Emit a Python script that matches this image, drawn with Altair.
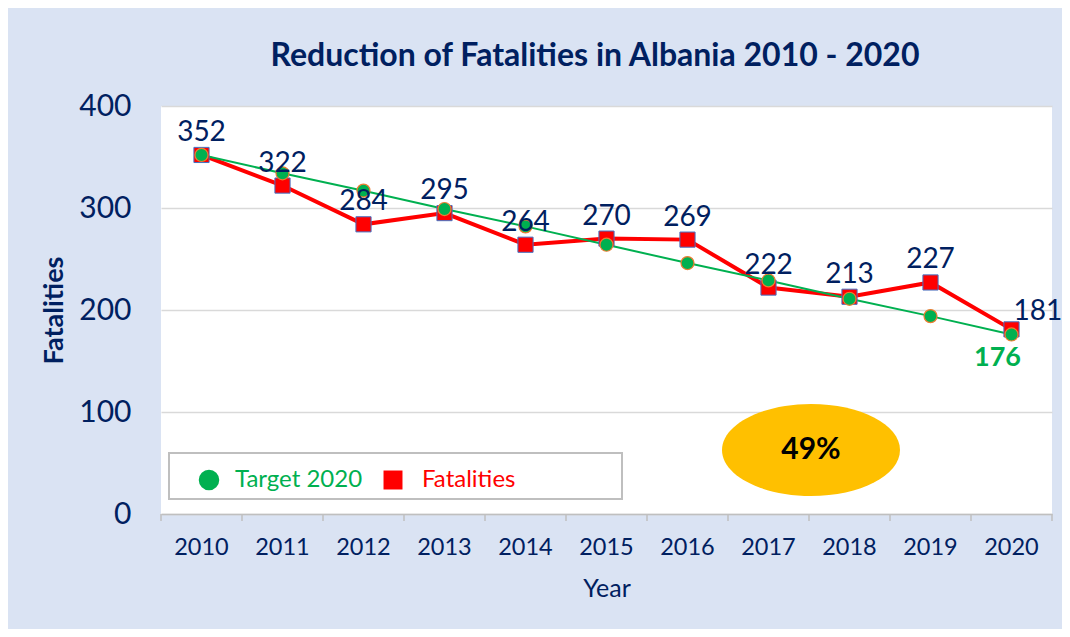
import altair as alt
import pandas as pd

years = ["2010", "2011", "2012", "2013", "2014", "2015", "2016", "2017", "2018", "2019", "2020"]
fatalities = [352, 322, 284, 295, 264, 270, 269, 222, 213, 227, 181]
target_2020 = [352, 334, 317, 299, 282, 264, 246, 229, 211, 194, 176]
series_names = ["Target 2020", "Fatalities"]
title_text = "Reduction of Fatalities in Albania 2010 - 2020"
reduction_label = ["49%"]
y_ticks = [0, 100, 200, 300, 400]

df = pd.DataFrame({"year": years, "fatalities": fatalities, "target": target_2020})

NAVY = "#002060"
GREEN = "#00b050"
RED = "#ff0000"
FONT = "Lato"
GRAY = "#bfbfbf"

x_scale = alt.Scale(type="band", paddingInner=0, paddingOuter=0)
x_axis = alt.Axis(title="Year", labelAngle=0, labelFont=FONT, labelFontSize=23.5, labelColor=NAVY,
                  labelPadding=21, ticks=False, domainColor=GRAY, domainWidth=1.5, grid=False,
                  titleFont=FONT, titleFontSize=25, titleFontWeight="normal", titleColor=NAVY,
                  titlePadding=18)
y_scale = alt.Scale(domain=[0, 400])
y_axis = alt.Axis(values=y_ticks, title="Fatalities", labelFont=FONT, labelFontSize=30, labelColor=NAVY,
                  labelPadding=30, ticks=False, domain=False, gridColor="#d9d9d9", gridWidth=1.5,
                  titleFont=FONT, titleFontSize=27, titleFontWeight="bold", titleColor=NAVY,
                  titlePadding=10)


def xq(bp=0.5):
    return alt.X("year:O", sort=years, scale=x_scale, bandPosition=bp, axis=x_axis)


def yq(field):
    return alt.Y(field, type="quantitative", scale=y_scale, axis=y_axis)


base = alt.Chart(df)

tick_rules = base.mark_rule(color=GRAY, strokeWidth=1.5).encode(
    x=xq(0), y=alt.value(408), y2=alt.value(415))
last_tick = base.transform_filter(alt.datum.year == "2020").mark_rule(color=GRAY, strokeWidth=1.5).encode(
    x=xq(1), y=alt.value(408), y2=alt.value(415))

fat_line = base.mark_line(color=RED, strokeWidth=4).encode(x=xq(), y=yq("fatalities"))
tgt_line = base.mark_line(color=GREEN, strokeWidth=2).encode(x=xq(), y=yq("target"))
fat_pts = base.mark_point(shape="square", filled=True, fill=RED, stroke="#4472c4", strokeWidth=1,
                          size=230, opacity=1).encode(x=xq(), y=yq("fatalities"))
tgt_pts = base.mark_point(shape="circle", filled=True, fill=GREEN, stroke="#ed7d31", strokeWidth=1.2,
                          size=170, opacity=1).encode(x=xq(), y=yq("target"))

fat_labels = base.transform_filter(alt.datum.year != "2020").mark_text(
    font=FONT, fontSize=28, color=NAVY, baseline="middle", dy=-22).encode(
    x=xq(), y=yq("fatalities"), text="fatalities:Q")
fat_last = base.transform_filter(alt.datum.year == "2020").mark_text(
    font=FONT, fontSize=28, color=NAVY, baseline="middle", align="left", dx=2, dy=-17).encode(
    x=xq(), y=yq("fatalities"), text="fatalities:Q")
tgt_last = base.transform_filter(alt.datum.year == "2020").mark_text(
    font=FONT, fontSize=27, fontWeight="bold", color=GREEN, baseline="middle", dx=-14, dy=24).encode(
    x=xq(), y=yq("target"), text="target:Q")

title = alt.Chart(pd.DataFrame({"t": [title_text]})).mark_text(
    font=FONT, fontSize=32, fontWeight="bold", color=NAVY, baseline="middle").encode(
    x=alt.value(434), y=alt.value(-50), text="t:N")

# Legend
leg_box = alt.Chart(pd.DataFrame({"k": [0]})).mark_rect(fill="white", stroke=GRAY, strokeWidth=2).encode(
    x=alt.value(8), x2=alt.value(461), y=alt.value(347), y2=alt.value(393))
leg_tgt_sym = alt.Chart(pd.DataFrame({"s": [series_names[0]]})).mark_point(
    shape="circle", filled=True, fill=GREEN, size=420, opacity=1).encode(x=alt.value(48), y=alt.value(374))
leg_tgt_txt = alt.Chart(pd.DataFrame({"s": [series_names[0]]})).mark_text(
    font=FONT, fontSize=24, color=GREEN, align="left", baseline="middle").encode(
    x=alt.value(74), y=alt.value(374), text="s:N")
leg_fat_sym = alt.Chart(pd.DataFrame({"s": [series_names[1]]})).mark_point(
    shape="square", filled=True, fill=RED, size=360, opacity=1).encode(x=alt.value(232), y=alt.value(374))
leg_fat_txt = alt.Chart(pd.DataFrame({"s": [series_names[1]]})).mark_text(
    font=FONT, fontSize=24, color=RED, align="left", baseline="middle").encode(
    x=alt.value(261), y=alt.value(374), text="s:N")

# Ellipse badge
ellipse_path = "M -1 0 A 1 0.517 0 1 1 1 0 A 1 0.517 0 1 1 -1 0 Z"
badge = alt.Chart(pd.DataFrame({"t": reduction_label})).mark_point(
    shape=ellipse_path, filled=True, fill="#ffc000", size=178 * 178, opacity=1).encode(
    x=alt.value(650), y=alt.value(344))
badge_txt = alt.Chart(pd.DataFrame({"t": reduction_label})).mark_text(
    font=FONT, fontSize=30, fontWeight="bold", color="black", baseline="middle").encode(
    x=alt.value(650), y=alt.value(344), text="t:N")

chart = alt.layer(
    tick_rules, last_tick, fat_line, tgt_line, fat_pts, tgt_pts,
    fat_labels, fat_last, tgt_last,
    leg_box, leg_tgt_sym, leg_tgt_txt, leg_fat_sym, leg_fat_txt,
    badge, badge_txt, title
).properties(
    width=891, height=408,
    padding={"left": 153, "top": 98, "right": 10, "bottom": 115},
    autosize=alt.AutoSizeParams(type="none"),
    background="#dae3f3",
).configure_view(fill="white", strokeWidth=0)

chart.save("out.html", embed_options={"renderer": "svg", "actions": False})
